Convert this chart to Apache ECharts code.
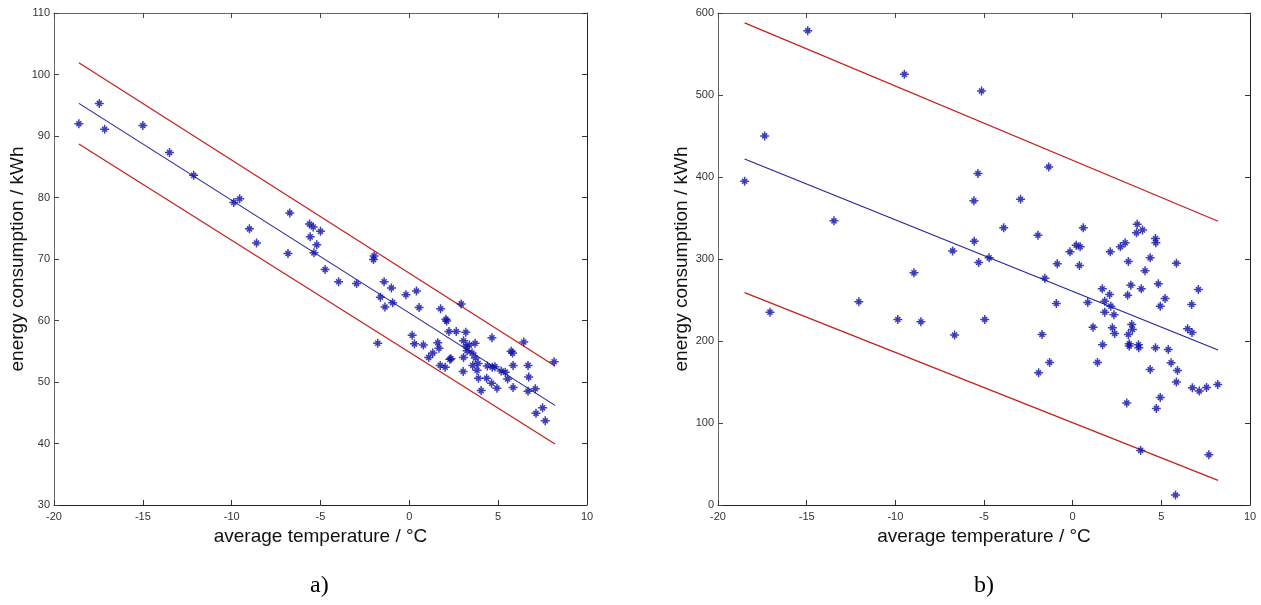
<!DOCTYPE html>
<html>
<head>
<meta charset="utf-8">
<title>Energy consumption vs. average temperature</title>
<script src="https://cdn.jsdelivr.net/npm/echarts@6/dist/echarts.min.js"></script>
<style>
  html, body { margin: 0; padding: 0; background: #fff; }
  #chart { width: 1261px; height: 605px; }
</style>
</head>
<body>
<div id="chart"></div>
<script>
// ---- axis ticks ----
const tempTicks = [-20, -15, -10, -5, 0, 5, 10];
const energyTicksA = [30, 40, 50, 60, 70, 80, 90, 100, 110];
const energyTicksB = [0, 100, 200, 300, 400, 500, 600];

// ---- panel a): daily average temperature (°C) and energy consumption (kWh) ----
const tempA = [
  -18.6, -17.45, -17.15, -15.0, -13.5, -12.14, -9.88, -9.55, -9.0, -8.6,
  -6.73, -6.83, -5.62, -5.41, -5.58, -5.0, -5.21, -5.37, -4.74, -3.98,
  -2.97, -1.98, -2.02, -1.78, -1.63, -1.42, -1.37, -1.01, -0.94, -0.19,
  0.4, 0.55, 0.16, 0.29, 0.79, 1.09, 1.32, 1.6, 1.67, 1.76,
  1.74, 2.02, 2.06, 2.1, 2.23, 2.28, 2.34, 2.64, 2.92, 3.05,
  3.18, 3.05, 3.03, 3.2, 3.25, 3.38, 3.53, 3.7, 3.57, 3.72,
  3.87, 3.81, 3.89, 4.04, 4.39, 4.35, 4.65, 4.67, 4.63, 4.82,
  4.93, 5.17, 5.4, 5.53, 5.73, 5.81, 5.84, 5.84, 6.44, 6.68,
  6.72, 6.68, 7.09, 7.13, 7.5, 7.65, 8.15
];
const energyA = [
  92.0, 95.3, 91.1, 91.7, 87.3, 83.6, 79.2, 79.8, 74.9, 72.6,
  77.5, 70.9, 75.7, 75.2, 73.6, 74.5, 72.3, 71.0, 68.3, 66.3,
  66.0, 70.5, 69.9, 56.3, 63.8, 66.3, 62.2, 65.3, 62.9, 64.2,
  64.8, 62.1, 57.6, 56.2, 56.0, 54.0, 54.7, 56.4, 55.5, 61.9,
  52.7, 52.4, 60.2, 59.9, 58.2, 53.7, 53.8, 58.2, 62.7, 56.7,
  58.1, 54.0, 51.7, 55.8, 55.1, 56.0, 54.7, 56.3, 52.7, 53.9,
  53.0, 51.9, 50.6, 48.6, 52.6, 50.6, 57.2, 52.4, 49.8, 52.5,
  49.0, 51.8, 51.6, 50.5, 55.0, 54.7, 52.7, 49.1, 56.5, 52.7,
  50.8, 48.5, 48.9, 44.9, 45.8, 43.7, 53.3
];
// regression line and prediction bounds (end points)
const fitXA = [-18.6, 8.2];
const fitA = [95.3, 46.2];
const upperA = [101.9, 52.6];
const lowerA = [88.7, 39.9];

// ---- panel b) ----
const tempB = [
  -18.5, -17.37, -17.07, -14.94, -13.46, -12.06, -9.86, -9.49, -8.95, -8.56,
  -6.77, -6.66, -5.57, -5.55, -5.34, -5.3, -5.14, -4.96, -4.71, -3.89,
  -2.94, -1.96, -1.92, -1.73, -1.57, -1.35, -1.3, -0.92, -0.87, -0.15,
  0.2, 0.42, 0.38, 0.6, 0.85, 1.15, 1.4, 1.67, 1.69, 1.81,
  1.81, 2.08, 2.12, 2.15, 2.24, 2.33, 2.37, 2.69, 2.96, 3.1,
  3.05, 3.14, 3.14, 3.19, 3.19, 3.28, 3.33, 3.37, 3.6, 3.64,
  3.71, 3.73, 3.83, 3.87, 3.94, 4.08, 4.37, 4.37, 4.67, 4.69,
  4.67, 4.72, 4.83, 4.94, 4.94, 5.21, 5.39, 5.55, 5.85, 5.85,
  5.91, 5.8, 6.48, 6.71, 6.73, 6.75, 7.09, 7.14, 7.55, 7.68,
  8.18
];
const energyB = [
  394.8, 450.1, 235.2, 578.5, 346.5, 247.8, 226.3, 525.2, 283.1, 223.4,
  309.9, 207.2, 370.9, 321.7, 404.2, 295.7, 504.9, 226.3, 301.4, 338.0,
  372.9, 329.0, 161.3, 208.0, 276.6, 412.3, 173.9, 245.8, 294.1, 308.7,
  316.9, 314.8, 292.1, 338.0, 247.0, 216.9, 173.9, 263.6, 195.4, 248.6,
  235.2, 256.7, 308.7, 242.5, 216.1, 232.0, 209.2, 314.8, 319.7, 255.9,
  124.3, 296.9, 208.0, 196.6, 193.8, 268.1, 220.1, 214.1, 331.9, 342.4,
  195.4, 191.7, 66.6, 263.6, 335.5, 285.6, 301.4, 165.3, 325.0, 319.7,
  191.7, 117.8, 269.7, 242.5, 131.2, 251.7, 189.7, 173.5, 294.9, 149.9,
  164.1, 12.2, 214.9, 244.5, 210.4, 143.0, 262.8, 138.9, 143.4, 61.3,
  147.0
];
const fitXB = [-18.5, 8.2];
const fitB = [422, 189];
const upperB = [588, 346];
const lowerB = [259, 30];

// ---- styling helpers ----
const FONT = 'Liberation Sans, Arial, sans-serif';
// asterisk marker: long upright cross plus shorter diagonals
const STAR = 'path://M0,-5L0,5M-5,0L5,0M-2.8,-2.8L2.8,2.8M-2.8,2.8L2.8,-2.8';
const BLUE = '#0c0ca6';
const RED = '#c81c1c';

function pairs(xs, ys) { return xs.map((x, i) => [x, ys[i]]); }

function bottomAxis(gridIndex, ticks) {
  return {
    type: 'value', gridIndex, position: 'bottom',
    min: ticks[0], max: ticks[ticks.length - 1], interval: ticks[1] - ticks[0],
    name: 'average temperature / °C', nameLocation: 'middle', nameGap: 22,
    nameTextStyle: { fontFamily: FONT, fontSize: 19, color: '#111' },
    axisLine: { show: true, onZero: false, lineStyle: { color: '#222', width: 1 } },
    axisTick: { show: true, inside: true, length: 5, lineStyle: { color: '#333' } },
    axisLabel: { show: true, margin: 6, fontFamily: FONT, fontSize: 11, color: '#333',
                 showMinLabel: true, showMaxLabel: true },
    splitLine: { show: false }
  };
}
function topAxis(gridIndex, ticks) {
  return {
    type: 'value', gridIndex, position: 'top',
    min: ticks[0], max: ticks[ticks.length - 1], interval: ticks[1] - ticks[0],
    axisLine: { show: true, onZero: false, lineStyle: { color: '#666', width: 1 } },
    axisTick: { show: true, inside: true, length: 5, lineStyle: { color: '#444' } },
    axisLabel: { show: false },
    splitLine: { show: false }
  };
}
function leftAxis(gridIndex, ticks) {
  return {
    type: 'value', gridIndex, position: 'left',
    min: ticks[0], max: ticks[ticks.length - 1], interval: ticks[1] - ticks[0],
    name: 'energy consumption / kWh', nameLocation: 'middle', nameGap: 26, nameRotate: 90,
    nameTextStyle: { fontFamily: FONT, fontSize: 19, color: '#111' },
    axisLine: { show: true, onZero: false, lineStyle: { color: '#666', width: 1 } },
    axisTick: { show: true, inside: true, length: 5, lineStyle: { color: '#444' } },
    axisLabel: { show: true, margin: 4, fontFamily: FONT, fontSize: 11, color: '#333',
                 showMinLabel: true, showMaxLabel: true },
    splitLine: { show: false }
  };
}
function rightAxis(gridIndex, ticks) {
  return {
    type: 'value', gridIndex, position: 'right',
    min: ticks[0], max: ticks[ticks.length - 1], interval: ticks[1] - ticks[0],
    axisLine: { show: true, onZero: false, lineStyle: { color: '#222', width: 1 } },
    axisTick: { show: true, inside: true, length: 5, lineStyle: { color: '#333' } },
    axisLabel: { show: false },
    splitLine: { show: false }
  };
}
function scatter(xi, yi, xs, ys) {
  return {
    type: 'scatter', xAxisIndex: xi, yAxisIndex: yi,
    data: pairs(xs, ys), symbol: STAR, symbolSize: 9, z: 5,
    itemStyle: { color: 'rgba(0,0,0,0)', borderColor: BLUE, borderWidth: 1.5 },
    emphasis: { disabled: true }, silent: true
  };
}
function line(xi, yi, xs, ys, color, width) {
  return {
    type: 'line', xAxisIndex: xi, yAxisIndex: yi,
    data: pairs(xs, ys), showSymbol: false, symbol: 'none', z: 3,
    lineStyle: { color, width }, emphasis: { disabled: true }, silent: true
  };
}

const chart = echarts.init(document.getElementById('chart'), null, { renderer: 'canvas' });
chart.setOption({
  animation: false,
  backgroundColor: '#ffffff',
  grid: [
    { left: 54, top: 13, width: 533, height: 492, containLabel: false, outerBoundsMode: 'none' },
    { left: 718, top: 13, width: 532, height: 492, containLabel: false, outerBoundsMode: 'none' }
  ],
  xAxis: [
    bottomAxis(0, tempTicks), topAxis(0, tempTicks),
    bottomAxis(1, tempTicks), topAxis(1, tempTicks)
  ],
  yAxis: [
    leftAxis(0, energyTicksA), rightAxis(0, energyTicksA),
    leftAxis(1, energyTicksB), rightAxis(1, energyTicksB)
  ],
  series: [
    line(0, 0, fitXA, upperA, RED, 1.2),
    line(0, 0, fitXA, lowerA, RED, 1.2),
    line(0, 0, fitXA, fitA, '#22229c', 1.1),
    scatter(0, 0, tempA, energyA),
    line(2, 2, fitXB, upperB, RED, 1.2),
    line(2, 2, fitXB, lowerB, RED, 1.2),
    line(2, 2, fitXB, fitB, '#22229c', 1.1),
    scatter(2, 2, tempB, energyB)
  ],
  graphic: [
    { type: 'text', left: 310, top: 574,
      style: { text: 'a)', fontFamily: 'Liberation Serif, Times New Roman, serif', fontSize: 24, fill: '#000' } },
    { type: 'text', left: 974, top: 574,
      style: { text: 'b)', fontFamily: 'Liberation Serif, Times New Roman, serif', fontSize: 24, fill: '#000' } }
  ]
});
</script>
</body>
</html>
